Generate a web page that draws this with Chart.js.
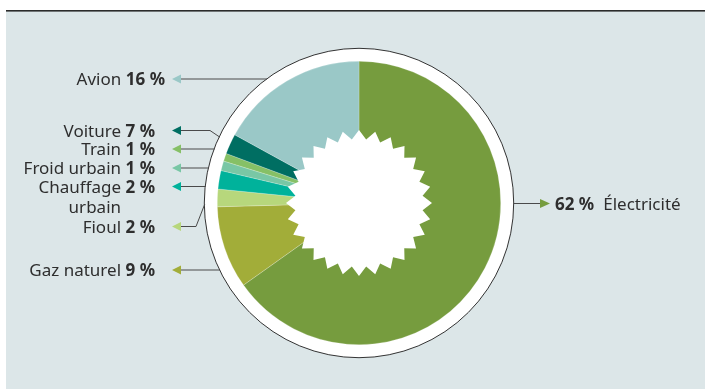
<!DOCTYPE html>
<html>
<head>
<meta charset="utf-8">
<script src="https://cdn.jsdelivr.net/npm/chart.js@4"></script>
<style>
  html, body { margin: 0; padding: 0; background: #fff; }
  canvas { display: block; }
</style>
</head>
<body>
<canvas id="energyChart" width="705" height="389"></canvas>
<script>
// categories, clockwise from 12 o'clock
const categories = ['Électricité', 'Gaz naturel', 'Fioul', 'Chauffage urbain', 'Froid urbain', 'Train', 'Voiture', 'Avion'];
// slice sizes as drawn in the picture (%)
const sliceValues = [65.1, 9.4, 2.0, 2.1, 1.1, 0.9, 2.3, 17.0];
// percentages printed in the labels
const labelPercents = [62, 9, 2, 2, 1, 1, 7, 16];
const sliceColors = ['#769c3e', '#a2ad39', '#b7d77c', '#00b29b', '#79c7a5', '#86c066', '#006e62', '#9ac8c7'];

// label layout (left column is right aligned, Électricité sits on the right)
const labelLayout = [
  { side: 'right', y: 203.5 },
  { side: 'left', y: 270, textRight: 155 },
  { side: 'left', y: 226.5, textRight: 155, elbowX: 196, targetY: 204 },
  { side: 'left', y: 186.5, textRight: 155, wrap: true },
  { side: 'left', y: 168, textRight: 155 },
  { side: 'left', y: 149, textRight: 155 },
  { side: 'left', y: 130.5, textRight: 155, elbowX: 210, targetY: 137 },
  { side: 'left', y: 79, textRight: 165 }
];

const FONT = '"Noto Sans", sans-serif';
const FONT_SIZE = 17;
const TEXT_COLOR = '#2e2e2e';
const LINE_COLOR = '#4a4a4a';

const decorPlugin = {
  id: 'decor',
  beforeDraw(chart) {
    const ctx = chart.ctx;
    ctx.save();
    ctx.fillStyle = '#dce6e8';
    ctx.fillRect(6, 11, chart.width - 6, chart.height - 11);
    ctx.fillStyle = '#2b2b2b';
    ctx.fillRect(6, 10, chart.width - 6, 1.6);
    ctx.restore();
  },
  beforeDatasetsDraw(chart) {
    const arc = chart.getDatasetMeta(0).data[0];
    const ctx = chart.ctx;
    const ringR = arc.outerRadius + 13;
    ctx.save();
    ctx.beginPath();
    ctx.arc(arc.x, arc.y, ringR, 0, Math.PI * 2);
    ctx.fillStyle = '#fff';
    ctx.fill();
    ctx.lineWidth = 1;
    ctx.strokeStyle = '#333';
    ctx.stroke();
    ctx.restore();
  },
  afterDatasetsDraw(chart) {
    const meta = chart.getDatasetMeta(0);
    const arc = meta.data[0];
    const ctx = chart.ctx;
    const cx = arc.x, cy = arc.y;
    const ringR = arc.outerRadius + 13;

    // jagged white centre
    const points = 28, rOut = 73, rIn = 64;
    ctx.save();
    ctx.beginPath();
    for (let i = 0; i < points * 2; i++) {
      const r = i % 2 === 0 ? rOut : rIn;
      const a = -Math.PI / 2 + (i * Math.PI) / points;
      const px = cx + r * Math.cos(a), py = cy + r * Math.sin(a);
      if (i === 0) ctx.moveTo(px, py); else ctx.lineTo(px, py);
    }
    ctx.closePath();
    ctx.fillStyle = '#fff';
    ctx.fill();
    ctx.restore();

    // leader lines, arrows and labels
    ctx.save();
    const regular = FONT_SIZE + 'px ' + FONT;
    const bold = 'bold ' + FONT_SIZE + 'px ' + FONT;
    categories.forEach((name, i) => {
      const lay = labelLayout[i];
      const color = sliceColors[i];
      const y = lay.y;
      ctx.strokeStyle = LINE_COLOR;
      ctx.lineWidth = 1;
      ctx.fillStyle = color;

      if (lay.side === 'right') {
        const edgeX = cx + ringR;
        ctx.beginPath();
        ctx.moveTo(edgeX, y);
        ctx.lineTo(541, y);
        ctx.stroke();
        ctx.beginPath();
        ctx.moveTo(540, y - 4.5);
        ctx.lineTo(550, y);
        ctx.lineTo(540, y + 4.5);
        ctx.closePath();
        ctx.fill();

        let x = 555;
        ctx.fillStyle = TEXT_COLOR;
        ctx.textAlign = 'left';
        ctx.font = bold;
        const pct = labelPercents[i] + ' %';
        ctx.fillText(pct, x, y + 6);
        x += ctx.measureText(pct).width + 9;
        ctx.font = regular;
        ctx.fillText(name, x, y + 6);
        return;
      }

      const ty = lay.targetY !== undefined ? lay.targetY : y;
      const edgeX = cx - Math.sqrt(Math.max(0, ringR * ringR - (ty - cy) * (ty - cy)));
      ctx.beginPath();
      ctx.moveTo(180, y);
      if (lay.elbowX !== undefined) {
        ctx.lineTo(lay.elbowX, y);
      }
      ctx.lineTo(edgeX + 0.5, ty);
      ctx.stroke();

      ctx.beginPath();
      ctx.moveTo(181, y - 4.5);
      ctx.lineTo(172, y);
      ctx.lineTo(181, y + 4.5);
      ctx.closePath();
      ctx.fill();

      // text, right aligned
      ctx.fillStyle = TEXT_COLOR;
      ctx.textAlign = 'right';
      ctx.font = bold;
      const pct = labelPercents[i] + ' %';
      const base = y + 6;
      let x = lay.textRight;
      ctx.fillText(pct, x, base);
      x -= ctx.measureText(pct).width + 4.5;
      ctx.font = regular;
      if (lay.wrap) {
        const words = name.split(' ');
        ctx.fillText(words[0], x, base);
        ctx.fillText(words.slice(1).join(' '), x, base + 20);
      } else {
        ctx.fillText(name, x, base);
      }
    });
    ctx.restore();
  }
};

new Chart(document.getElementById('energyChart').getContext('2d'), {
  type: 'pie',
  data: {
    labels: categories,
    datasets: [{
      data: sliceValues,
      backgroundColor: sliceColors,
      borderWidth: 0.6,
      borderColor: 'rgba(255,255,255,0.35)'
    }]
  },
  options: {
    responsive: false,
    animation: false,
    layout: { padding: { left: 217, top: 61, right: 204, bottom: 44 } },
    plugins: {
      legend: { display: false },
      tooltip: { enabled: false }
    }
  },
  plugins: [decorPlugin]
});
</script>
</body>
</html>
